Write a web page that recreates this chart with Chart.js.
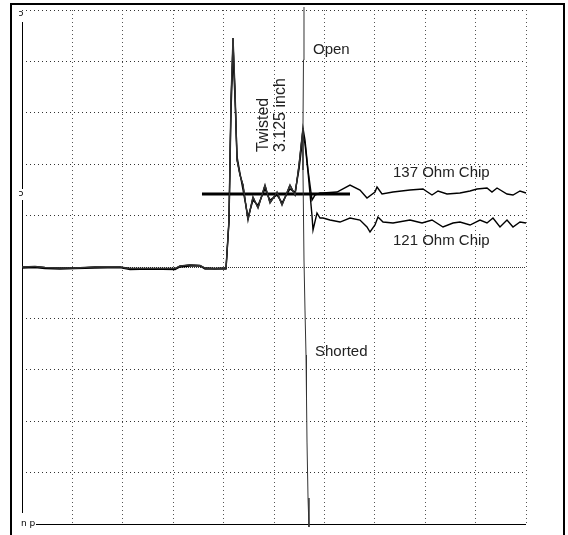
<!DOCTYPE html>
<html lang="en">
<head>
  <meta charset="UTF-8">
  <title>TDR traces</title>
  <style>
    body { margin: 0; background: #fff; }
  </style>
</head>
<body>
<canvas id="chart" width="568" height="535"></canvas>

<script src="https://cdn.jsdelivr.net/npm/chart.js"></script>

<script>
  // units are screen divisions (10 x 10 graticule, 0 = reference level)

  // shared launch + twisted pair section
  const twistX = [0, 0.258, 0.456, 0.754, 1.052, 1.448, 1.944, 2.143, 2.540, 3.036, 3.135, 3.333, 3.532, 3.631, 3.829,
    4.048, 4.107, 4.147, 4.187, 4.226, 4.266, 4.325, 4.385, 4.484, 4.583, 4.683, 4.821, 4.921, 5.060, 5.159, 5.317, 5.417, 5.496, 5.575];
  const twistY = [0, 0.01, -0.01, -0.02, -0.02, 0, 0, -0.03, -0.03, -0.03, 0.02, 0.04, 0.03, -0.02, -0.03,
    -0.02, 0.914, 3.249, 4.455, 3.444, 2.082, 1.790, 1.595, 0.914, 1.362, 1.148, 1.595, 1.245, 1.459, 1.206, 1.595, 1.401, 1.984, 2.704];
  const twist121Y = [-0.02, -0.01, -0.03, -0.04, -0.03, -0.02, -0.01, -0.05, -0.04, -0.05, 0.0, 0.02, 0.02, -0.04, -0.04,
    -0.04, 0.88, 3.05, 4.12, 3.30, 2.15, 1.82, 1.50, 0.97, 1.30, 1.20, 1.52, 1.30, 1.40, 1.25, 1.52, 1.45, 1.90, 2.55];

  const chip137X = [5.615, 5.675, 5.754, 5.813, 5.913, 5.972, 6.250, 6.508, 6.706, 6.845, 7.004, 7.044, 7.143, 7.361, 7.698,
    7.956, 8.135, 8.254, 8.433, 8.690, 8.889, 9.028, 9.226, 9.325, 9.425, 9.623, 9.742, 9.881, 10.0];
  const chip137Y = [2.471, 1.887, 1.30, 1.40, 1.440, 1.440, 1.459, 1.595, 1.498, 1.342, 1.459, 1.556, 1.420, 1.459, 1.498,
    1.518, 1.401, 1.479, 1.420, 1.440, 1.479, 1.518, 1.537, 1.459, 1.537, 1.420, 1.401, 1.479, 1.440];

  const chip121X = [5.615, 5.675, 5.754, 5.774, 5.853, 5.913, 5.972, 6.111, 6.310, 6.508, 6.706, 6.845, 6.905, 7.004, 7.063, 7.163,
    7.361, 7.698, 7.937, 8.135, 8.353, 8.552, 8.690, 8.889, 9.087, 9.226, 9.345, 9.484, 9.623, 9.742, 9.881, 10.0];
  const chip121Y = [2.40, 1.85, 1.00, 0.720, 1.051, 0.953, 0.953, 0.914, 0.875, 0.953, 0.914, 0.778, 0.681, 0.817, 0.973, 0.875,
    0.856, 0.914, 0.856, 0.914, 0.778, 0.856, 0.875, 0.817, 0.914, 0.856, 0.953, 0.778, 0.914, 0.778, 0.875, 0.856];

  const openX = [5.585, 5.595];
  const openY = [4.027, 5.058];

  const shortX = [5.575, 5.595, 5.615, 5.635, 5.645, 5.655, 5.675, 5.694];
  const shortY = [1.887, 0.136, -0.837, -1.712, -2.549, -3.405, -4.494, -5.058];

  const cursorX = [3.571, 6.508];
  const cursorY = [1.420, 1.420];

  // annotation text
  const labelText = ['Open', '137 Ohm Chip', '121 Ohm Chip', 'Shorted'];
  const labelX = [5.774, 7.361, 7.361, 5.813];
  const labelY = [4.222, 1.829, 0.506, -1.654];

  const sideText = ['Twisted', '3.125 inch'];
  const sideX = [4.802, 5.139];
  const sideY = [2.237, 2.237];

  const pts = (xs, ys) => xs.map((x, i) => ({ x, y: ys[i] }));

  const trace = (label, xs, ys, color, width) => ({
    label,
    data: pts(xs, ys),
    borderColor: color,
    borderWidth: width,
    pointRadius: 0,
    tension: 0,
    fill: false,
    clip: false
  });

  const datasets = [
    trace('Open', twistX.concat(openX), twistY.concat(openY), '#333', 1),
    trace('Shorted', twistX.concat(shortX), twistY.concat(shortY), '#333', 1),
    trace('121 Ohm Chip', twistX.concat(chip121X), twist121Y.concat(chip121Y), '#000', 1.4),
    trace('137 Ohm Chip', twistX.concat(chip137X), twistY.concat(chip137Y), '#000', 1.4),
    trace('cursor', cursorX, cursorY, '#000', 3)
  ];

  const scopeDecor = {
    id: 'scopeDecor',
    beforeDatasetsDraw(chart) {
      const { ctx, chartArea: a, scales: { x, y } } = chart;
      ctx.save();
      // reference level, finer dots
      ctx.strokeStyle = '#333';
      ctx.lineWidth = 1;
      ctx.setLineDash([1, 1]);
      const y0 = Math.round(y.getPixelForValue(0)) + 0.5;
      ctx.beginPath();
      ctx.moveTo(a.left, y0);
      ctx.lineTo(a.right, y0);
      ctx.stroke();
      ctx.setLineDash([]);
      // bottom line
      ctx.strokeStyle = '#000';
      const yb = Math.round(y.getPixelForValue(-5)) + 0.5;
      ctx.beginPath();
      ctx.moveTo(a.left + 14, yb);
      ctx.lineTo(a.right, yb);
      ctx.stroke();
      // left axis, broken at the cursor marker
      const xl = Math.round(x.getPixelForValue(0)) + 0.5;
      const yc = y.getPixelForValue(cursorY[0]);
      ctx.beginPath();
      ctx.moveTo(xl, a.top + 12);
      ctx.lineTo(xl, yc - 5);
      ctx.moveTo(xl, yc + 6);
      ctx.lineTo(xl, a.bottom - 11);
      ctx.stroke();
      ctx.restore();
    },
    afterDraw(chart) {
      const { ctx, chartArea: a, scales: { x, y } } = chart;
      ctx.save();
      // outer frame
      ctx.strokeStyle = '#000';
      ctx.lineWidth = 2;
      ctx.beginPath();
      ctx.moveTo(11, 545);
      ctx.lineTo(11, 4);
      ctx.lineTo(564, 4);
      ctx.lineTo(564, 545);
      ctx.stroke();

      // small markers on the left axis
      ctx.fillStyle = '#000';
      ctx.font = '9px "DejaVu Sans", sans-serif';
      ctx.textBaseline = 'middle';
      ctx.textAlign = 'center';
      ctx.fillText('ɔ', a.left - 1, a.top + 4);
      ctx.fillText('ɔ', a.left - 1, y.getPixelForValue(cursorY[0]));
      ctx.textAlign = 'left';
      ctx.fillText('n p', a.left - 1, a.bottom);

      // annotations
      ctx.fillStyle = '#222';
      ctx.font = '15px "Liberation Sans", Arial, sans-serif';
      ctx.textAlign = 'left';
      ctx.textBaseline = 'middle';
      labelText.forEach((t, i) => {
        ctx.fillText(t, x.getPixelForValue(labelX[i]), y.getPixelForValue(labelY[i]));
      });

      ctx.font = '16px "Liberation Sans", Arial, sans-serif';
      sideText.forEach((t, i) => {
        ctx.save();
        ctx.translate(x.getPixelForValue(sideX[i]), y.getPixelForValue(sideY[i]));
        ctx.rotate(-Math.PI / 2);
        ctx.fillText(t, 0, 0);
        ctx.restore();
      });
      ctx.restore();
    }
  };

  new Chart(document.getElementById('chart'), {
    type: 'line',
    data: { datasets },
    options: {
      responsive: false,
      animation: false,
      events: [],
      layout: { padding: { left: 22, right: 42, top: 10, bottom: 11 } },
      plugins: {
        legend: { display: false },
        tooltip: { enabled: false }
      },
      scales: {
        x: {
          type: 'linear',
          min: 0,
          max: 10,
          ticks: { display: false, stepSize: 1 },
          grid: {
            drawTicks: false,
            lineWidth: 1,
            color: (c) => (c.tick && c.tick.value === 0) ? 'rgba(0,0,0,0)' : '#555'
          },
          border: { display: false, dash: [1, 3] }
        },
        y: {
          type: 'linear',
          min: -5,
          max: 5,
          ticks: { display: false, stepSize: 1 },
          grid: {
            drawTicks: false,
            lineWidth: 1,
            color: (c) => (c.tick && (c.tick.value === 0 || c.tick.value === -5)) ? 'rgba(0,0,0,0)' : '#333'
          },
          border: { display: false, dash: [1, 3] }
        }
      }
    },
    plugins: [scopeDecor]
  });
</script>
</body>
</html>
